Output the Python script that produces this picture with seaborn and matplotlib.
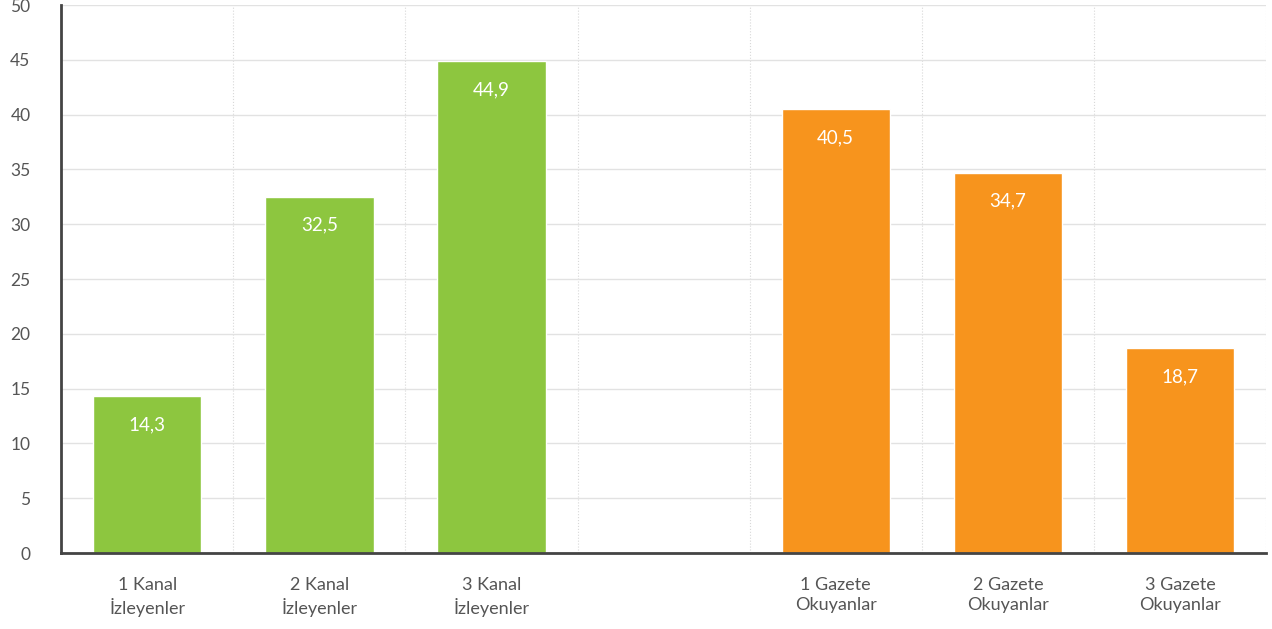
import numpy as np
import pandas as pd
import seaborn as sns
from matplotlib import pyplot as plt
from matplotlib.ticker import FixedLocator

# --- chart data ---
categories = ["1 Kanal\nİzleyenler", "2 Kanal\nİzleyenler", "3 Kanal\nİzleyenler", " ",
              "1 Gazete\nOkuyanlar", "2 Gazete\nOkuyanlar", "3 Gazete\nOkuyanlar"]
values = [14.3, 32.5, 44.9, np.nan, 40.5, 34.7, 18.7]
groups = ["tv", "tv", "tv", "tv", "paper", "paper", "paper"]
value_labels = ["14,3", "32,5", "44,9", "", "40,5", "34,7", "18,7"]
y_ticks = [0, 5, 10, 15, 20, 25, 30, 35, 40, 45, 50]

colors = {"tv": "#8DC63F", "paper": "#F7941D"}
text_gray = "#555555"

df = pd.DataFrame({"cat": categories, "val": values, "grp": groups})

sns.set_style("white")
plt.rcParams['font.family'] = ['Lato', 'DejaVu Sans']

fig = plt.figure(figsize=(12.72, 6.29), dpi=100)
ax = fig.add_axes([0.048, 0.1208, 0.9474, 0.8712])

sns.barplot(data=df, x="cat", y="val", hue="grp", palette=colors, order=categories,
            dodge=False, width=0.63, legend=False, ax=ax, saturation=1)

# value labels inside the bars
for i, (v, lab) in enumerate(zip(values, value_labels)):
    if lab:
        ax.text(i, v - 2.6, lab, ha="center", va="center", color="white", fontsize=13.5)

ax.set_ylim(0, 50)
ax.set_xlim(-0.5, len(categories) - 0.5)
ax.set_yticks(y_ticks)
ax.set_xlabel("")
ax.set_ylabel("")

# gridlines
ax.set_axisbelow(True)
ax.yaxis.grid(True, color="#e2e2e2", linewidth=1)
ax.xaxis.set_minor_locator(FixedLocator(np.arange(-0.5, len(categories), 1)))
ax.xaxis.grid(True, which="minor", color="#d8d8d8", linewidth=0.8, linestyle=":")
ax.xaxis.grid(False, which="major")

ax.tick_params(axis="x", which="major", length=0, labelsize=13, labelcolor=text_gray, pad=17)
ax.tick_params(axis="x", which="minor", length=8, width=1.8, color="#444444", direction="inout")
ax.tick_params(axis="y", length=0, labelsize=12.5, labelcolor=text_gray, pad=22)
for lab in ax.get_xticklabels():
    lab.set_linespacing(1.35)

for side in ["top", "right"]:
    ax.spines[side].set_visible(False)
for side in ["left", "bottom"]:
    ax.spines[side].set_color("#444444")
    ax.spines[side].set_linewidth(2)

plt.savefig("out.png", dpi=100)
